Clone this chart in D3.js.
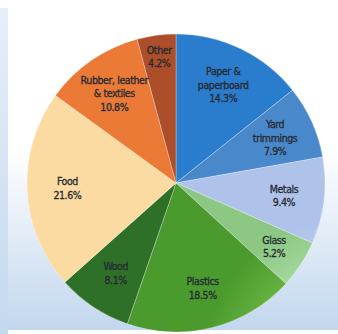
<!DOCTYPE html>
<html><head><meta charset="utf-8">
<script src="https://cdn.jsdelivr.net/npm/d3@7"></script>
<style>html,body{margin:0;padding:0;background:#fff;}svg{display:block;}</style>
</head><body>
<script>
const categories = ["Paper &\npaperboard", "Yard\ntrimmings", "Metals", "Glass", "Plastics", "Wood", "Food", "Rubber, leather\n& textiles", "Other"];
const values = [14.3, 7.9, 9.4, 5.2, 18.5, 8.1, 21.6, 10.8, 4.2];
const valueLabels = ["14.3%", "7.9%", "9.4%", "5.2%", "18.5%", "8.1%", "21.6%", "10.8%", "4.2%"];
const colorsInner = ["#2f86d6", "#5795d6", "#b8c9ee", "#9ed596", "#5fae3a", "#378430", "#fde4ae", "#f28a44", "#c05c34"];
const colorsMid   = ["#48a4e6", "#64a2de", "#c6d6f4", "#b0e0a8", "#74be46", "#3e8e36", "#feebc0", "#f69c56", "#c8663c"];
const colorsEdge  = ["#2a7ccc", "#4a88cc", "#afc2ea", "#8cc884", "#4a9a2e", "#2e7028", "#fbdba2", "#ea7a36", "#ac4e2a"];

const W = 338, H = 334;
const cx = 176, cy = 183, R = 149;

const svg = d3.select("body").append("svg").attr("width", W).attr("height", H);
const defs = svg.append("defs");

const bg = defs.append("linearGradient").attr("id", "bg").attr("x1", 0).attr("y1", 0).attr("x2", 0).attr("y2", 1);
bg.append("stop").attr("offset", "0%").attr("stop-color", "#ffffff");
bg.append("stop").attr("offset", "45%").attr("stop-color", "#ffffff");
bg.append("stop").attr("offset", "100%").attr("stop-color", "#c2d7ee");
const side = defs.append("linearGradient").attr("id", "side").attr("x1", 0).attr("y1", 0).attr("x2", 0).attr("y2", 1);
side.append("stop").attr("offset", "0%").attr("stop-color", "#e6eff9");
side.append("stop").attr("offset", "100%").attr("stop-color", "#c4d8ee");

svg.append("rect").attr("x", 0).attr("y", 0).attr("width", W).attr("height", H).attr("fill", "#fff");
svg.append("rect").attr("x", 0).attr("y", 8).attr("width", 8).attr("height", H - 8).attr("fill", "url(#side)");
svg.append("rect").attr("x", 8).attr("y", 0).attr("width", W - 8).attr("height", H - 4).attr("fill", "url(#bg)");

const data = categories.map((c, i) => ({ name: c, value: values[i], pct: valueLabels[i], i }));

values.forEach((v, i) => {
  const g = defs.append("radialGradient").attr("id", "g" + i)
    .attr("gradientUnits", "userSpaceOnUse").attr("cx", cx).attr("cy", cy).attr("r", R);
  g.append("stop").attr("offset", "0%").attr("stop-color", colorsInner[i]);
  g.append("stop").attr("offset", "55%").attr("stop-color", colorsMid[i]);
  g.append("stop").attr("offset", "100%").attr("stop-color", colorsEdge[i]);
});

const pie = d3.pie().value(d => d.value).sort(null);
const arc = d3.arc().innerRadius(0).outerRadius(R);
const arcs = pie(data);

const gPie = svg.append("g").attr("transform", `translate(${cx},${cy})`);
gPie.selectAll("path").data(arcs).join("path")
  .attr("d", arc)
  .attr("fill", d => `url(#g${d.data.i})`)
  .attr("stroke", "rgba(255,255,255,0.35)")
  .attr("stroke-width", 0.8);

const lineH = 13.5;
arcs.forEach(d => {
  const lr = R * (0.73 + Math.max(0, 6 - d.data.value) * 0.07);
  const a = (d.startAngle + d.endAngle) / 2;
  const x = Math.sin(a) * lr, y = -Math.cos(a) * lr;
  const lines = d.data.name.split("\n").concat([d.data.pct]);
  const t = gPie.append("text")
    .attr("text-anchor", "middle")
    .attr("font-family", "'DejaVu Sans Condensed', 'Liberation Sans Narrow', sans-serif")
    .attr("font-size", 10.5)
    .attr("fill", "#262a32")
    .attr("stroke", "#262a32")
    .attr("stroke-width", 0.3)
    .attr("letter-spacing", -0.4);
  lines.forEach((ln, k) => {
    t.append("tspan").attr("x", x)
      .attr("y", y + (k - (lines.length - 1) / 2) * lineH)
      .attr("dy", "0.35em").text(ln);
  });
});
</script>
</body></html>
